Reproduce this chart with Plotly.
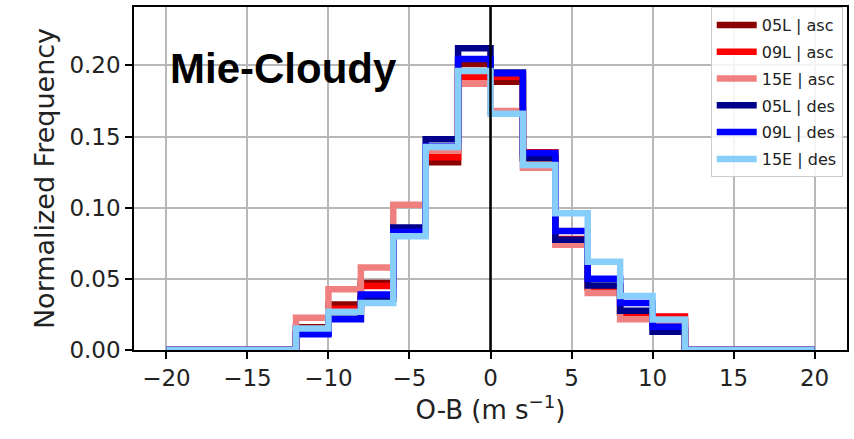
import plotly.graph_objects as go

# Bin edges of the step histograms (m/s)
bin_edges = list(range(-20, 21, 2))

# Normalized frequency per bin (20 bins from -20 to 20)
zeros4 = [0.0, 0.0, 0.0, 0.0]
freq_05L_asc = zeros4 + [0.016, 0.032, 0.047, 0.084, 0.132, 0.201, 0.1885, 0.1345, 0.077, 0.044, 0.026, 0.020] + zeros4
freq_09L_asc = zeros4 + [0.015, 0.029, 0.045, 0.083, 0.1355, 0.1916, 0.192, 0.139, 0.078, 0.044, 0.026, 0.0235] + zeros4
freq_15E_asc = zeros4 + [0.0226, 0.0426, 0.058, 0.102, 0.140, 0.187, 0.168, 0.128, 0.074, 0.040, 0.0216, 0.020] + zeros4
freq_05L_des = zeros4 + [0.012, 0.022, 0.036, 0.086, 0.148, 0.212, 0.195, 0.135, 0.0775, 0.0454, 0.0275, 0.0128] + zeros4
freq_09L_des = zeros4 + [0.011, 0.0216, 0.039, 0.083, 0.143, 0.2044, 0.1944, 0.1385, 0.0836, 0.050, 0.033, 0.0163] + zeros4
freq_15E_des = zeros4 + [0.0151, 0.0268, 0.033, 0.080, 0.1427, 0.196, 0.166, 0.130, 0.0961, 0.0620, 0.0379, 0.0214] + zeros4

series_names = ["05L | asc", "09L | asc", "15E | asc", "05L | des", "09L | des", "15E | des"]
series_values = [freq_05L_asc, freq_09L_asc, freq_15E_asc, freq_05L_des, freq_09L_des, freq_15E_des]
series_colors = ["#8b0000", "#ff0000", "#f08080", "#00008b", "#0000ff", "#87cefa"]

x_ticks = [-20, -15, -10, -5, 0, 5, 10, 15, 20]
y_ticks = [0.0, 0.05, 0.10, 0.15, 0.20]
y_tick_labels = ["0.00", "0.05", "0.10", "0.15", "0.20"]

fig = go.Figure()
for name, vals, col in zip(series_names, series_values, series_colors):
    xs = [bin_edges[0]] + bin_edges
    ys = [0.0] + list(vals) + [0.0]
    fig.add_trace(go.Scatter(
        x=xs, y=ys, mode="lines", name=name, legendgroup=name,
        line=dict(color=col, width=6.5, shape="hv"),
    ))

font_fam = "DejaVu Sans"
fig.add_shape(type="line", x0=0, x1=0, y0=0, y1=1, xref="x", yref="paper",
              line=dict(color="black", width=2.5), layer="above")

fig.add_annotation(x=-19.9, y=0.198, xref="x", yref="y", xanchor="left", yanchor="middle",
                   text="<b>Mie-Cloudy</b>", showarrow=False,
                   font=dict(family="Liberation Sans, Arial", size=42, color="black"))

fig.update_layout(
    width=854, height=439,
    margin=dict(l=134, r=6, t=5, b=89),
    paper_bgcolor="white", plot_bgcolor="white",
    font=dict(family=font_fam, color="#222222", size=23),
    showlegend=True,
    legend=dict(x=0.994, y=1.0, xanchor="right", yanchor="top",
                bgcolor="rgba(255,255,255,0.85)", bordercolor="#cccccc", borderwidth=1,
                font=dict(family=font_fam, size=16, color="#222222"),
                tracegroupgap=3, itemwidth=40),
)
fig.update_xaxes(
    range=[-22, 22], tickvals=x_ticks,
    showgrid=True, gridcolor="#b8b8b8", gridwidth=1.5,
    showline=True, linecolor="black", linewidth=1.5, mirror=True,
    ticks="outside", ticklen=7, tickwidth=1.5, tickcolor="black",
    zeroline=False,
    title=dict(text="O-B (m s<sup>−1</sup>)", font=dict(size=26), standoff=6),
)
fig.update_yaxes(
    range=[0, 0.241], tickvals=y_ticks, ticktext=y_tick_labels,
    showgrid=True, gridcolor="#b8b8b8", gridwidth=1.5,
    showline=True, linecolor="black", linewidth=1.5, mirror=True,
    ticks="outside", ticklen=7, tickwidth=1.5, tickcolor="black",
    zeroline=False,
    title=dict(text="Normalized Frequency", font=dict(size=27), standoff=7),
)

fig.write_html("out.html")
